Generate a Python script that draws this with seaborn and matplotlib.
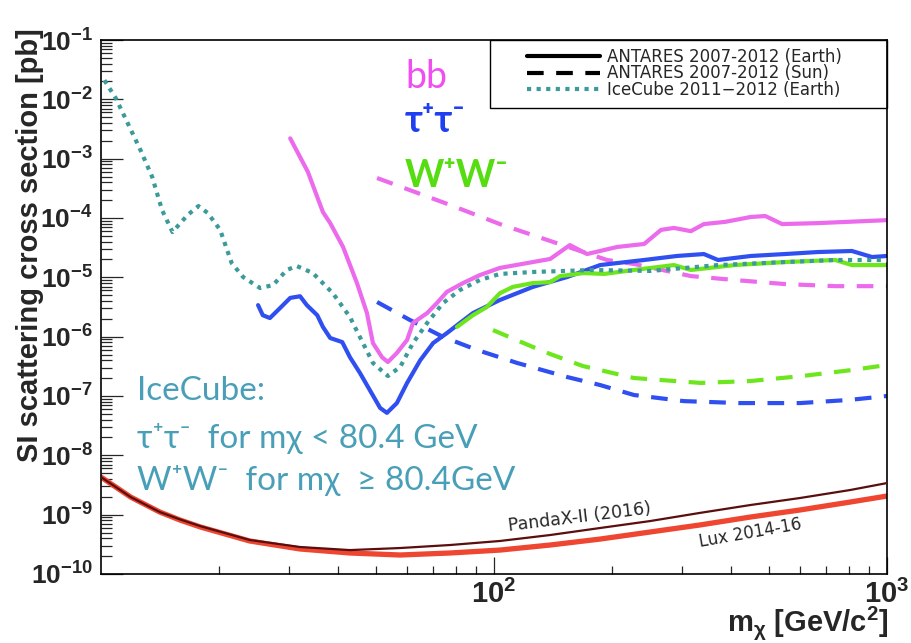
import matplotlib
matplotlib.use("Agg")
import matplotlib.pyplot as plt
import seaborn as sns
from matplotlib.lines import Line2D
from matplotlib.patches import Rectangle
from matplotlib.ticker import FixedLocator, NullFormatter

# ---------------- data ----------------
# IceCube 2011-2012 (Earth): tau+tau- below 80.4 GeV, W+W- above
icecube_x = [10.2, 10.9, 11.5, 12.6, 13.5, 14.3, 15.2, 16.6, 17.7, 18.7, 20.1, 21.5, 23.0,
             25.4, 27.4, 29.7, 31.5, 34.6, 38.9, 43.0, 46.4, 49.2, 53.7, 57.7, 62.2, 67.6,
             74.2, 81.9, 92.0, 103.5, 125.6, 178.6, 249.5, 371.5, 550, 738, 1000]
icecube_y = [2.1e-2, 1.05e-2, 5.0e-3, 1.4e-3, 4.9e-4, 1.36e-4, 5.8e-5, 1.12e-4, 1.59e-4,
             1.21e-4, 6.3e-5, 1.74e-5, 1.01e-5, 6.6e-6, 7.4e-6, 1.33e-5, 1.55e-5, 1.18e-5,
             5.4e-6, 2.14e-6, 7.8e-7, 3.6e-7, 2.17e-7, 3.08e-7, 7.8e-7, 1.70e-6, 3.69e-6,
             6.1e-6, 9.0e-6, 1.14e-5, 1.23e-5, 1.33e-5, 1.28e-5, 1.61e-5, 1.81e-5, 1.96e-5,
             1.96e-5]

# ANTARES 2007-2012 (Earth)
earth_tau_x = [25.1, 25.8, 26.9, 28.5, 30.3, 32.1, 33.4, 35.5, 36.7, 38.3, 41.1, 43.0, 45.6,
               48.3, 51.3, 53.4, 56.6, 60.1, 64.9, 70.0, 75.9, 81.9, 88.4, 103.5, 125.6,
               153.4, 186.2, 205.8, 241, 292, 342, 371.5, 450, 550, 667, 814, 916, 1000]
earth_tau_y = [3.4e-6, 2.3e-6, 2.06e-6, 3.0e-6, 4.5e-6, 4.8e-6, 3.4e-6, 2.3e-6, 1.46e-6,
               9.5e-7, 8.1e-7, 4.5e-7, 2.44e-7, 1.26e-7, 6.3e-8, 5.2e-8, 7.6e-8, 1.66e-7,
               4.0e-7, 7.8e-7, 1.15e-6, 1.70e-6, 2.5e-6, 4.15e-6, 6.9e-6, 1.01e-5, 1.61e-5,
               1.74e-5, 1.96e-5, 2.29e-5, 2.47e-5, 1.96e-5, 2.29e-5, 2.47e-5, 2.67e-5,
               2.78e-5, 2.2e-5, 2.29e-5]

earth_ww_x = [80.5, 88.4, 95.9, 103.5, 111.7, 125.6, 139, 147.4, 169.4, 190.5, 227, 287,
              317, 410, 550, 738, 814, 1000]
earth_ww_y = [1.46e-6, 2.3e-6, 3.16e-6, 5.4e-6, 6.9e-6, 8.0e-6, 8.3e-6, 1.05e-5, 1.18e-5,
              1.14e-5, 1.33e-5, 1.61e-5, 1.33e-5, 1.61e-5, 1.81e-5, 1.96e-5, 1.61e-5, 1.61e-5]

earth_bb_x = [30.3, 33.6, 36.7, 38.3, 41.3, 44.8, 47.5, 49.2, 51.9, 53.7, 56.6, 60.1, 62.2,
              67.6, 71.6, 75.9, 83.4, 92.0, 103.5, 125.6, 139, 156, 172.5, 205.8, 241, 266,
              287, 317, 342, 387, 450, 490, 541, 667, 1000]
earth_bb_y = [2.2e-3, 6.0e-4, 1.26e-4, 8.2e-5, 3.25e-5, 8.0e-6, 2.5e-6, 7.8e-7, 4.5e-7,
              3.74e-7, 5.3e-7, 8.8e-7, 1.7e-6, 2.5e-6, 3.7e-6, 5.7e-6, 8.0e-6, 1.09e-5,
              1.44e-5, 1.81e-5, 2.04e-5, 3.5e-5, 2.47e-5, 3.25e-5, 3.65e-5, 6.3e-5, 6.8e-5,
              6.0e-5, 7.9e-5, 8.6e-5, 1.04e-4, 1.08e-4, 7.9e-5, 8.2e-5, 9.2e-5]

# ANTARES 2007-2012 (Sun)
sun_bb_x = [50.4, 77.3, 103.5, 139, 194, 227, 317, 410, 550, 738, 1000]
sun_bb_y = [4.72e-4, 1.66e-4, 7.9e-5, 4.1e-5, 1.96e-5, 1.68e-5, 1.05e-5, 9.0e-6, 7.7e-6,
            7.1e-6, 7.1e-6]

sun_tau_x = [50.4, 61.1, 74.2, 90.6, 114.6, 153.4, 186.2, 227, 304, 422, 601, 805, 1000]
sun_tau_y = [3.84e-6, 1.91e-6, 9.9e-7, 5.96e-7, 3.6e-7, 2.09e-7, 1.53e-7, 1.04e-7, 8.2e-8,
             7.6e-8, 7.6e-8, 8.6e-8, 1.0e-7]

sun_ww_x = [99.4, 125.6, 139, 168.3, 227, 336, 450, 608, 814, 1000]
sun_ww_y = [1.29e-6, 6.7e-7, 5.1e-7, 3.2e-7, 2.01e-7, 1.66e-7, 1.79e-7, 2.17e-7, 2.74e-7,
            3.33e-7]

# Direct detection
lux_x = [10, 11.9, 14.1, 15.9, 17.9, 23.9, 32.1, 43.0, 57.7, 77.3, 103.5, 139, 186.2, 249.5,
         334, 448, 601, 805, 1000]
lux_y = [4.3e-9, 1.98e-9, 1.11e-9, 8.1e-10, 6.2e-10, 3.6e-10, 2.64e-10, 2.26e-10, 2.09e-10,
         2.26e-10, 2.53e-10, 3.08e-10, 3.88e-10, 5.1e-10, 6.7e-10, 9.1e-10, 1.20e-9,
         1.63e-9, 2.06e-9]

pandax_x = [10, 11.9, 14.1, 15.9, 17.9, 23.9, 32.1, 43.0, 57.7, 77.3, 103.5, 139, 186.2,
            249.5, 334, 448, 601, 805, 1000]
pandax_y = [4.3e-9, 1.98e-9, 1.11e-9, 8.3e-10, 6.4e-10, 3.74e-10, 2.85e-10, 2.53e-10,
            2.74e-10, 3.08e-10, 3.6e-10, 4.54e-10, 5.96e-10, 7.8e-10, 1.07e-9, 1.45e-9,
            1.91e-9, 2.6e-9, 3.41e-9]

y_major = [1e-10, 1e-9, 1e-8, 1e-7, 1e-6, 1e-5, 1e-4, 1e-3, 1e-2, 1e-1]
y_labels = [r"$\mathbf{10^{-10}}$", r"$\mathbf{10^{-9}}$", r"$\mathbf{10^{-8}}$",
            r"$\mathbf{10^{-7}}$", r"$\mathbf{10^{-6}}$", r"$\mathbf{10^{-5}}$",
            r"$\mathbf{10^{-4}}$", r"$\mathbf{10^{-3}}$", r"$\mathbf{10^{-2}}$",
            r"$\mathbf{10^{-1}}$"]
x_major = [100, 1000]
x_labels = [r"$\mathbf{10^{2}}$", r"$\mathbf{10^{3}}$"]

legend_labels = ["ANTARES 2007-2012 (Earth)", "ANTARES 2007-2012 (Sun)",
                 "IceCube 2011\u22122012 (Earth)"]

# ---------------- style ----------------
sns.set_style("white")
plt.rcParams["font.family"] = ["Liberation Sans", "DejaVu Sans"]
plt.rcParams["mathtext.fontset"] = "custom"
plt.rcParams["mathtext.rm"] = "Liberation Sans"
plt.rcParams["mathtext.bf"] = "Liberation Sans:bold"
plt.rcParams["mathtext.it"] = "Liberation Sans:italic"

C_BB = "#ec6aec"
C_TAU = "#2f4ff0"
C_WW = "#6ee61e"
C_ICE = "#3c9a9a"
C_LUX = "#ee4630"
C_PANDA = "#5a0e0e"
DASH = (0, (4, 3))
DOT = (0, (1, 1.3))

W, H = 912, 643
fig = plt.figure(figsize=(W / 100, H / 100), dpi=100)
ax = fig.add_axes([101 / W, 1 - 574 / H, (887 - 101) / W, (574 - 40) / H])
ax.set_xscale("log")
ax.set_yscale("log")


def draw(x, y, color, lw, ls="-", z=2):
    sns.lineplot(x=x, y=y, ax=ax, color=color, linewidth=lw, linestyle=ls,
                 estimator=None, sort=False, legend=False, zorder=z,
                 dash_capstyle="butt", solid_capstyle="round")


draw(pandax_x, pandax_y, C_PANDA, 1.6, z=3)
draw(lux_x, lux_y, C_LUX, 3.8, z=2)
draw(sun_bb_x, sun_bb_y, C_BB, 3.0, DASH)
draw(sun_tau_x, sun_tau_y, C_TAU, 3.0, DASH)
draw(sun_ww_x, sun_ww_y, C_WW, 3.0, DASH)
draw(earth_bb_x, earth_bb_y, C_BB, 3.0)
draw(earth_tau_x, earth_tau_y, C_TAU, 3.0)
draw(earth_ww_x, earth_ww_y, C_WW, 3.0)
draw(icecube_x, icecube_y, C_ICE, 3.0, DOT, z=4)

ax.set_xlim(10, 1000)
ax.set_ylim(1e-10, 1e-1)
ax.set_xlabel("")
ax.set_ylabel("")

# axes frame and ticks
for side, sp in ax.spines.items():
    sp.set_color("black")
    sp.set_linewidth(1.2)
    sp.set_visible(True)

ax.yaxis.set_major_locator(FixedLocator(y_major))
ax.set_yticklabels(y_labels)
ax.yaxis.set_minor_locator(FixedLocator(
    [m * 10.0 ** e for e in range(-10, -1) for m in range(2, 10)]))
ax.yaxis.set_minor_formatter(NullFormatter())
ax.xaxis.set_major_locator(FixedLocator(x_major))
ax.set_xticklabels(x_labels)
ax.xaxis.set_minor_locator(FixedLocator(
    [m * 10.0 ** e for e in (1, 2) for m in range(2, 10)]))
ax.xaxis.set_minor_formatter(NullFormatter())

ax.tick_params(axis="y", which="major", direction="in", length=16, width=0.9,
               labelsize=19, pad=6, left=True, right=False)
ax.tick_params(axis="y", which="minor", direction="in", length=8, width=0.9,
               left=True, right=False)
ax.tick_params(axis="x", which="major", direction="in", length=12, width=0.9,
               labelsize=21, pad=4, bottom=True, top=False)
ax.tick_params(axis="x", which="minor", direction="in", length=6, width=0.9,
               bottom=True, top=False)

# axis titles
fig.text(30 / W, 1 - 28 / H, "SI scattering cross section [pb]", rotation=90,
         ha="center", va="top", fontsize=21, fontweight="bold")
fig.text(888 / W, 1 - 623 / H, r"$\mathbf{m_{\chi}\ [GeV/c^{2}]}$",
         ha="right", va="center", fontsize=21)

# legend
handles = [Line2D([], [], color="black", lw=3),
           Line2D([], [], color="black", lw=3, ls=DASH, dash_capstyle="butt"),
           Line2D([], [], color=C_ICE, lw=3, ls=DOT, dash_capstyle="butt")]
leg = ax.legend(handles, legend_labels, loc="upper left",
                bbox_to_anchor=((527 - 101) / 786, (574 - 48) / 534),
                frameon=False, borderpad=0, borderaxespad=0, labelspacing=-0.1,
                handlelength=4.4, handletextpad=0.4,
                prop={"family": "DejaVu Sans", "size": 12})
ax.add_patch(Rectangle(((490 - 101) / 786, (574 - 108) / 534), (887 - 490) / 786,
                       (108 - 40) / 534, transform=ax.transAxes, fill=False,
                       edgecolor="black", linewidth=1.0, zorder=5, clip_on=False))

# channel labels
slide_font = ["Lato", "Noto Sans", "DejaVu Sans"]
T = ax.transAxes
ax.text((405 - 101) / 786, (574 - 88) / 534, "bb", color="#f04ef0", fontsize=27,
        family=slide_font, va="baseline", ha="left", transform=T)
ax.text((405 - 101) / 786, (574 - 132) / 534, "\u03c4\u207a\u03c4\u207b", color="#1f3ff0",
        fontsize=27, fontweight="bold", family=slide_font, va="baseline", ha="left",
        transform=T)
ax.text((405 - 101) / 786, (574 - 187) / 534, "W\u207aW\u207b", color="#55dd11",
        fontsize=27, fontweight="bold", family=slide_font, va="baseline", ha="left",
        transform=T)

ice_lines = ["IceCube:", "\u03c4\u207a\u03c4\u207b  for m\u03c7 < 80.4 GeV",
             "W\u207aW\u207b  for m\u03c7  \u2265 80.4GeV"]
for txt, base in zip(ice_lines, [400, 448, 490]):
    ax.text((137 - 101) / 786, (574 - base) / 534, txt, color="#4a9fb8", fontsize=24,
            family=slide_font, va="baseline", ha="left", transform=T)

# direct-detection labels
ax.text((580 - 101) / 786, (574 - 517) / 534, "PandaX-II (2016)", rotation=7,
        fontsize=12.5, family="DejaVu Sans", ha="center", va="center", transform=T)
ax.text((750 - 101) / 786, (574 - 533) / 534, "Lux 2014-16", rotation=10,
        fontsize=12, family="DejaVu Sans", ha="center", va="center", transform=T)

fig.savefig("out.png", dpi=100)
